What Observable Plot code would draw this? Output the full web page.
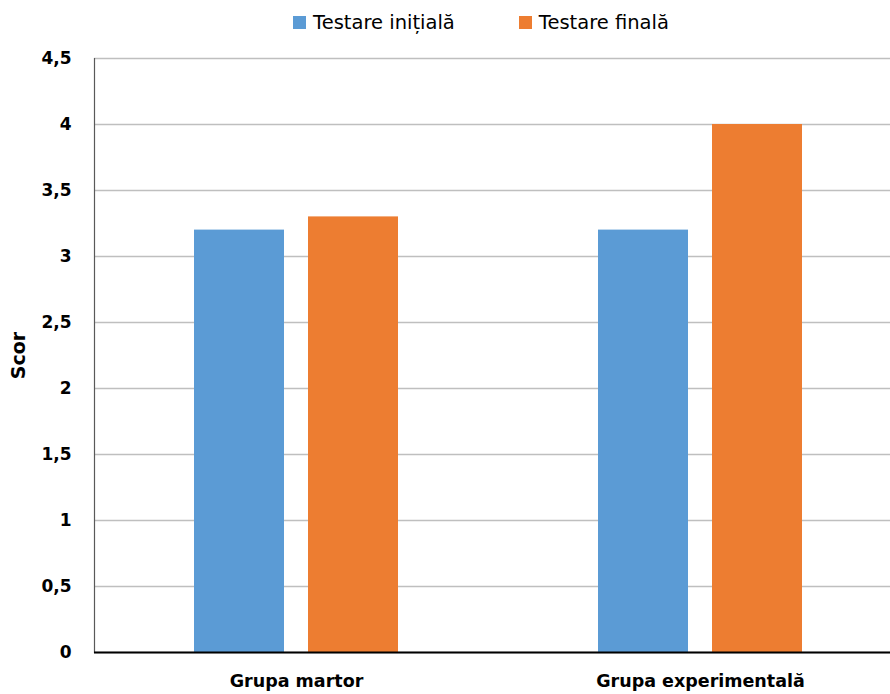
<!DOCTYPE html>
<html>
<head>
<meta charset="utf-8">
<script src="https://cdn.jsdelivr.net/npm/d3@7"></script>
<script src="https://cdn.jsdelivr.net/npm/@observablehq/plot@0.6"></script>
<style>
  html, body { margin: 0; padding: 0; background: #fff; overflow: hidden; }
  #wrap { position: relative; width: 890px; height: 694px; overflow: hidden; }
  #chart svg { max-width: none !important; display: block; }
  #legend { position: absolute; top: 11px; left: 0; width: 962px; display: flex; justify-content: center; gap: 64px;
            font-family: "DejaVu Sans", sans-serif; font-size: 19.5px; color: #000; z-index: 2; }
  #legend span.item { display: inline-flex; align-items: center; }
  #legend span.sw { width: 13px; height: 13px; display: inline-block; margin-right: 7px; }
</style>
</head>
<body>
<div id="wrap"><div id="legend"></div><div id="chart"></div></div>
<script>
const groups = ["Grupa martor", "Grupa experimentală"];
const series = ["Testare inițială", "Testare finală"];
const colors = ["#5B9BD5", "#ED7D31"];
const initialValues = [3.2, 3.2];
const finalValues = [3.3, 4.0];
const yTicks = [0, 0.5, 1, 1.5, 2, 2.5, 3, 3.5, 4, 4.5];

const data = [];
groups.forEach((g, i) => {
  data.push({group: g, series: series[0], value: initialValues[i]});
  data.push({group: g, series: series[1], value: finalValues[i]});
});

const legend = document.getElementById("legend");
series.forEach((s, i) => {
  const item = document.createElement("span");
  item.className = "item";
  const sw = document.createElement("span");
  sw.className = "sw";
  sw.style.background = colors[i];
  item.appendChild(sw);
  item.appendChild(document.createTextNode(s));
  legend.appendChild(item);
});

const chart = Plot.plot({
  width: 902,
  height: 694,
  marginLeft: 94,
  marginRight: 0,
  marginTop: 58,
  marginBottom: 42,
  style: {fontFamily: "'DejaVu Sans', sans-serif", fontSize: "17px", fontWeight: "bold", color: "#000", background: "transparent", maxWidth: "none"},
  fx: {domain: groups, padding: 0},
  x: {domain: series, paddingInner: 0.2087, paddingOuter: 0.861, axis: null},
  y: {domain: [0, 4.5]},
  color: {domain: series, range: colors},
  marks: [
    Plot.gridY(yTicks, {stroke: "#bfbfbf", strokeOpacity: 1, strokeWidth: 1.3}),
    Plot.barY(data, {fx: "group", x: "series", y: "value", fill: "series"}),
    Plot.frame({anchor: "left", facet: "super", stroke: "#595959", strokeWidth: 1.2}),
    Plot.ruleY([0], {stroke: "#000", strokeWidth: 2}),
    Plot.axisY(yTicks, {tickSize: 0, tickPadding: 23, tickFormat: d => String(d).replace(".", ","), label: null, fontSize: 17}),
    Plot.axisY([], {label: "Scor", labelAnchor: "center", labelOffset: 83, labelArrow: "none", fontSize: 19}),
    Plot.axisFx({anchor: "bottom", tickSize: 0, tickPadding: 22, label: null, fontSize: 17.5})
  ]
});
document.getElementById("chart").appendChild(chart);
</script>
</body>
</html>
